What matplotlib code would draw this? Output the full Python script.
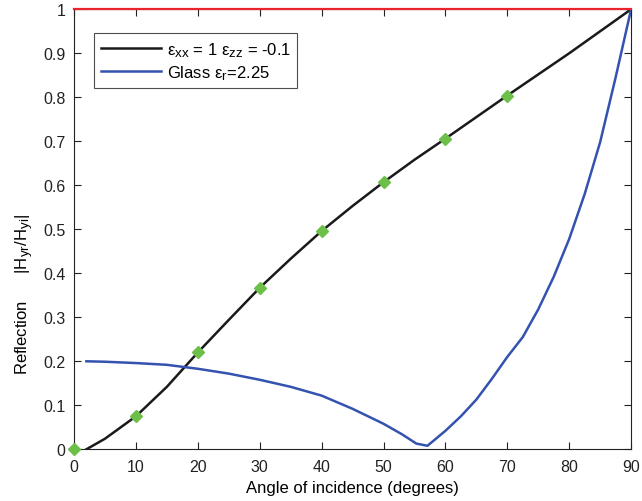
import matplotlib
matplotlib.use("Agg")
import matplotlib.pyplot as plt
import matplotlib._mathtext as _mt

_mt.SHRINK_FACTOR = 0.8

plt.rcParams['font.family'] = ['Liberation Sans', 'DejaVu Sans']
plt.rcParams['mathtext.default'] = 'regular'

# Data
angle_black = [2, 5, 10, 15, 20, 25, 30, 35, 40, 45, 50, 55, 60, 65, 70, 75, 80, 85, 90]
refl_black = [0.0, 0.024, 0.075, 0.142, 0.220, 0.294, 0.367, 0.433, 0.496, 0.553, 0.607,
              0.658, 0.706, 0.755, 0.804, 0.852, 0.900, 0.950, 1.0]

marker_angle = [0, 10, 20, 30, 40, 50, 60, 70]
marker_refl = [0.0, 0.075, 0.220, 0.367, 0.496, 0.607, 0.706, 0.804]

angle_blue = [2, 5, 10, 15, 20, 25, 30, 35, 40, 43, 45, 50, 53, 55.3, 57.1, 60, 62.5, 65,
              67.5, 70, 72.5, 75, 77.5, 80, 82.5, 85, 87.5, 90]
refl_blue = [0.200, 0.199, 0.196, 0.192, 0.183, 0.172, 0.158, 0.142, 0.122, 0.104, 0.092,
             0.058, 0.034, 0.013, 0.008, 0.042, 0.075, 0.113, 0.160, 0.210, 0.255, 0.318,
             0.392, 0.478, 0.580, 0.698, 0.845, 1.0]

ref_angle = [0, 90]
ref_refl = [1, 1]

xticks = [0, 10, 20, 30, 40, 50, 60, 70, 80, 90]
yticks = [0, 0.1, 0.2, 0.3, 0.4, 0.5, 0.6, 0.7, 0.8, 0.9, 1]
yticklabels = ['0', '0.1', '0.2', '0.3', '0.4', '0.5', '0.6', '0.7', '0.8', '0.9', '1']

fig = plt.figure(figsize=(6.42, 5.02), dpi=100)
ax = fig.add_axes([0.1153, 0.103, 0.8677, 0.8765])

l1, = ax.plot(angle_black, refl_black, color='#1a1a1a', lw=1.8,
              label='ε$_{xx}$ = 1 ε$_{zz}$ = -0.1', zorder=3)
l2, = ax.plot(angle_blue, refl_blue, color='#3452b0', lw=1.8,
              label='Glass ε$_{r}$=2.25', zorder=3)
ax.plot(ref_angle, ref_refl, color='#e8242c', lw=1.6, clip_on=False, zorder=4)
ax.plot(marker_angle, marker_refl, linestyle='none', marker='D', markersize=6,
        color='#6cc04a', markeredgecolor='#6cc04a', clip_on=False, zorder=5)

ax.set_xlim(0, 90)
ax.set_ylim(0, 1)
ax.set_xticks(xticks)
ax.set_yticks(yticks)
ax.set_yticklabels(yticklabels)
ax.tick_params(direction='in', length=5, width=0.8, top=True, right=True,
               labelsize=11.5, colors='#222222')
ax.tick_params(axis='x', pad=7)
ax.tick_params(axis='y', pad=6)
for s in ax.spines.values():
    s.set_linewidth(0.8)
    s.set_color('#222222')

ax.set_xlabel('Angle of incidence (degrees)', fontsize=12, labelpad=4)
ax.set_ylabel('Reflection      |H$_{yr}$/H$_{yi}$|', fontsize=12)
ax.yaxis.set_label_coords(-0.068, 0.355)

leg = ax.legend(handles=[l1, l2], loc='upper left', bbox_to_anchor=(0.036, 0.945),
                fontsize=12, frameon=True, fancybox=False, edgecolor='#222222',
                handlelength=3.6, handletextpad=0.35, borderpad=0.4,
                labelspacing=0.25, borderaxespad=0)
leg.get_frame().set_linewidth(0.8)

fig.savefig('out.png', dpi=100)
